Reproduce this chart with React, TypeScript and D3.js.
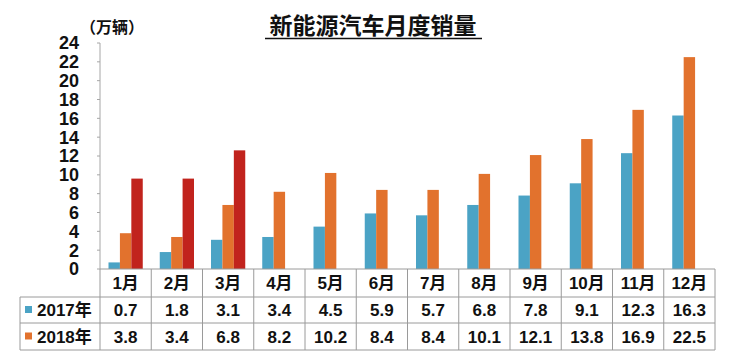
import * as d3 from 'd3';

const months = ['1月', '2月', '3月', '4月', '5月', '6月', '7月', '8月', '9月', '10月', '11月', '12月'];
const sales2017 = [0.7, 1.8, 3.1, 3.4, 4.5, 5.9, 5.7, 6.8, 7.8, 9.1, 12.3, 16.3];
const sales2018 = [3.8, 3.4, 6.8, 8.2, 10.2, 8.4, 8.4, 10.1, 12.1, 13.8, 16.9, 22.5];
const sales2019 = [9.6, 9.6, 12.6];
const seriesKeys = ['2017', '2018', '2019'];
const seriesColors = ['#4ba3c5', '#e2722d', '#c1231d'];
const tableRows = [
  { label: '2017年', values: sales2017, color: '#4ba3c5' },
  { label: '2018年', values: sales2018, color: '#e2722d' },
];
const yTicks = d3.range(0, 25, 2);

const FONT = '"Liberation Sans", Arial, "Noto Sans CJK SC", sans-serif';
const W = 740;
const H = 352;
const plotLeft = 100;
const plotRight = 715;
const plotTop = 43;
const plotBottom = 269;
const rowH = [28, 26, 27];
const tableLeft = 20;

export default function App() {
  const x = d3.scaleBand<string>().domain(months).range([plotLeft, plotRight]).padding(0);
  const bw = x.bandwidth();
  const x1 = d3.scaleBand<string>().domain(seriesKeys).range([8.5, bw - 8.5]).padding(0);
  const y = d3.scaleLinear().domain([0, 24]).range([plotBottom, plotTop]);

  const seriesData = [sales2017, sales2018, sales2019];
  const rowTops = [plotBottom, plotBottom + rowH[0], plotBottom + rowH[0] + rowH[1]];
  const tableBottom = rowTops[2] + rowH[2];

  return (
    <div style={{ position: 'fixed', left: 0, top: 0, width: W, height: H }}>
      <svg width={W} height={H} style={{ display: 'block', fontFamily: FONT }}>
        <rect width={W} height={H} fill="#ffffff" />
        <text x={373} y={34} textAnchor="middle" fontSize={23} fontWeight="bold" fill="#111">
          新能源汽车月度销量
        </text>
        <line x1={265} x2={482} y1={38.5} y2={38.5} stroke="#111" strokeWidth={1.6} />
        <text x={80} y={33} fontSize={16} fontWeight="bold" fill="#111">（万辆）</text>

        {yTicks.map((t) => (
          <g key={t}>
            <line x1={97} x2={plotLeft} y1={y(t)} y2={y(t)} stroke="#a6a6a6" />
            <text x={79} y={y(t)} dy="0.36em" textAnchor="end" fontSize={18} fontWeight="bold" fill="#111">
              {t}
            </text>
          </g>
        ))}
        <line x1={plotLeft} x2={plotLeft} y1={plotTop} y2={plotBottom} stroke="#a6a6a6" />

        {seriesData.map((vals, si) =>
          vals.map((v, i) => (
            <rect
              key={`${si}-${i}`}
              x={(x(months[i]) ?? 0) + (x1(seriesKeys[si]) ?? 0)}
              y={y(v)}
              width={x1.bandwidth()}
              height={y(0) - y(v)}
              fill={seriesColors[si]}
            />
          ))
        )}

        {/* data table */}
        <g stroke="#9a9a9a" strokeWidth={1}>
          <line x1={plotLeft} x2={plotRight} y1={rowTops[0]} y2={rowTops[0]} />
          <line x1={tableLeft} x2={plotRight} y1={rowTops[1]} y2={rowTops[1]} />
          <line x1={tableLeft} x2={plotRight} y1={rowTops[2]} y2={rowTops[2]} />
          <line x1={tableLeft} x2={plotRight} y1={tableBottom} y2={tableBottom} />
          <line x1={tableLeft} x2={tableLeft} y1={rowTops[1]} y2={tableBottom} />
          {months.map((m) => (
            <line key={m} x1={x(m)} x2={x(m)} y1={rowTops[0]} y2={tableBottom} />
          ))}
          <line x1={plotRight} x2={plotRight} y1={rowTops[0]} y2={tableBottom} />
        </g>
        {months.map((m) => (
          <text
            key={m}
            x={(x(m) ?? 0) + bw / 2}
            y={rowTops[0] + rowH[0] / 2}
            dy="0.36em"
            textAnchor="middle"
            fontSize={17}
            fontWeight="bold"
            fill="#111"
          >
            {m}
          </text>
        ))}
        {tableRows.map((row, ri) => (
          <g key={row.label}>
            <rect x={25} y={rowTops[ri + 1] + rowH[ri + 1] / 2 - 4} width={7} height={7} fill={row.color} />
            <text
              x={37}
              y={rowTops[ri + 1] + rowH[ri + 1] / 2}
              dy="0.36em"
              fontSize={17}
              fontWeight="bold"
              fill="#111"
            >
              {row.label}
            </text>
            {row.values.map((v, i) => (
              <text
                key={i}
                x={(x(months[i]) ?? 0) + bw / 2}
                y={rowTops[ri + 1] + rowH[ri + 1] / 2}
                dy="0.36em"
                textAnchor="middle"
                fontSize={17}
                fontWeight="bold"
                fill="#111"
              >
                {v.toFixed(1)}
              </text>
            ))}
          </g>
        ))}
      </svg>
    </div>
  );
}
